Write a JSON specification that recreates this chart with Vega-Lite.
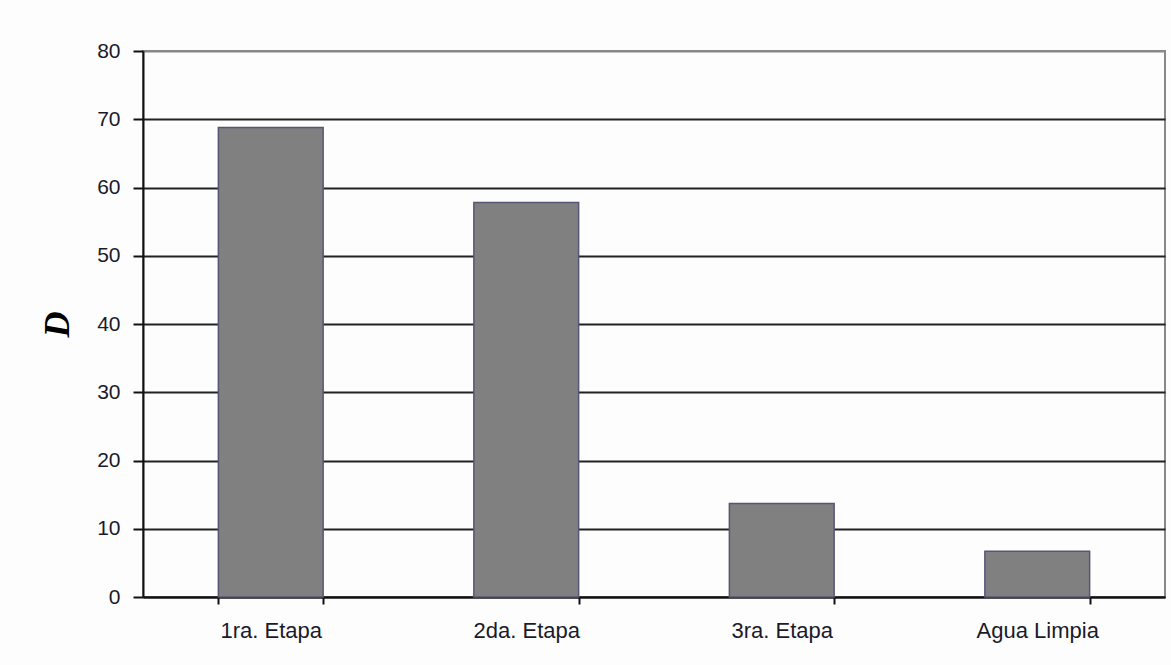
{
  "$schema": "https://vega.github.io/schema/vega-lite/v6.json",
  "autosize": "none",
  "width": 1022,
  "height": 546,
  "padding": {"left": 143, "top": 51, "right": 6, "bottom": 68},
  "background": "#fdfdfd",
  "config": {
    "view": {"stroke": "#888888", "strokeWidth": 2},
    "font": "Liberation Sans"
  },
  "data": {
    "values": [
      {"etapa": "1ra. Etapa", "D": 68.8},
      {"etapa": "2da. Etapa", "D": 57.8},
      {"etapa": "3ra. Etapa", "D": 13.7},
      {"etapa": "Agua Limpia", "D": 6.7}
    ]
  },
  "mark": {"type": "bar", "fill": "#808080", "stroke": "#555577", "strokeWidth": 1.5},
  "encoding": {
    "x": {
      "field": "etapa",
      "type": "nominal",
      "sort": null,
      "scale": {"paddingInner": 0.59, "paddingOuter": 0.295},
      "axis": {
        "title": null,
        "labelAngle": 0,
        "labelFont": "Liberation Sans",
        "labelFontSize": 22,
        "labelColor": "#1a1a2a",
        "labelPadding": 16,
        "tickBand": "extent",
        "tickSize": 7,
        "tickColor": "#111111",
        "tickWidth": 2,
        "domainColor": "#111111",
        "domainWidth": 2,
        "grid": false
      }
    },
    "y": {
      "field": "D",
      "type": "quantitative",
      "scale": {"domain": [0, 80], "nice": false},
      "axis": {
        "title": "D",
        "titleFont": "Liberation Serif",
        "titleFontStyle": "italic",
        "titleFontWeight": "bold",
        "titleFontSize": 36,
        "titleColor": "#000000",
        "titlePadding": 20,
        "values": [0, 10, 20, 30, 40, 50, 60, 70, 80],
        "labelFont": "Liberation Sans",
        "labelFontSize": 21,
        "labelColor": "#1a1a2a",
        "labelPadding": 13,
        "tickSize": 10,
        "tickColor": "#111111",
        "tickWidth": 2,
        "domainColor": "#111111",
        "domainWidth": 2,
        "grid": true,
        "gridColor": {"condition": {"test": "datum.value === 80", "value": "#888888"}, "value": "#222222"},
        "gridWidth": 2
      }
    }
  }
}
